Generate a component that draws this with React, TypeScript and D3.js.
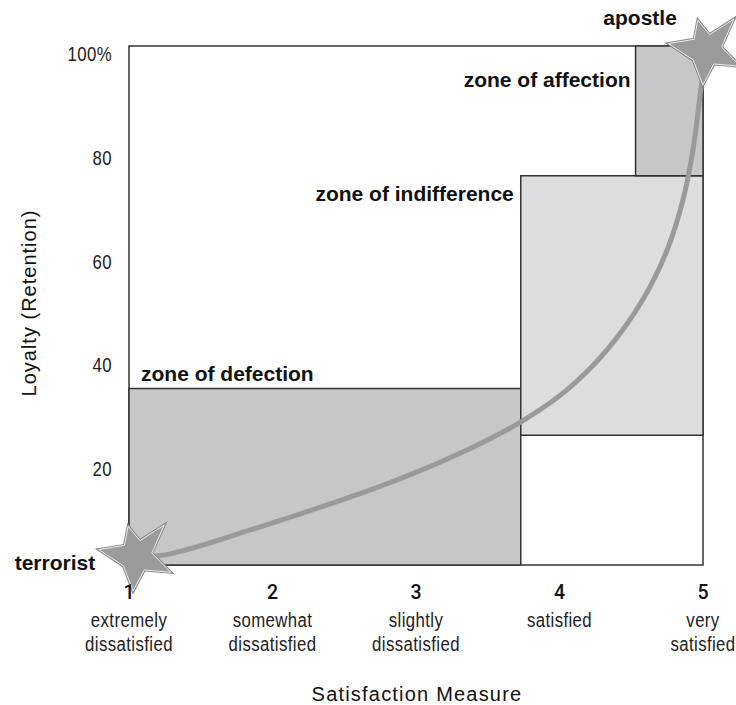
import React from "react";
import * as d3 from "d3";

// ---- data ----
const satisfactionLevels = [1, 2, 3, 4, 5];
const satisfactionLine1 = ["extremely", "somewhat", "slightly", "satisfied", "very"];
const satisfactionLine2 = ["dissatisfied", "dissatisfied", "dissatisfied", "", "satisfied"];
const loyaltyTicks = [20, 40, 60, 80, 100];
const loyaltyTickLabels = ["20", "40", "60", "80", "100%"];

const zoneNames = ["zone of defection", "zone of indifference", "zone of affection"];
const zoneSatFrom = [1, 3.73, 4.53];
const zoneSatTo = [3.73, 5, 5];
const zoneLoyaltyFrom = [0, 25, 75];
const zoneLoyaltyTo = [34, 75, 100];

const curveSat = [1.05, 1.24, 1.84, 2.87, 3.36, 3.72, 4.05, 4.33, 4.58, 4.75, 4.86, 4.93, 4.98, 5.02];
const curveLoyalty = [1.7, 1.9, 6.7, 16.4, 22.2, 27.4, 33.7, 41.4, 51.1, 60.7, 70.3, 80.0, 90.6, 99.2];

const endpointNames = ["terrorist", "apostle"];
const endpointSat = [1.05, 5.02];
const endpointLoyalty = [1.7, 99.2];

// ---- layout ----
const W = 736;
const H = 705;
const x = d3.scaleLinear().domain([1, 5]).range([129, 703]);
const y = d3.scaleLinear().domain([0, 100]).range([565, 46]);

const SANS = "'Liberation Sans', Arial, Helvetica, sans-serif";
const NARROW_SCALE = 0.8;
const zoneFills = ["#c6c7c9", "#dcdddf", "#c6c7c9"];

// star marker shape (tip angles in degrees clockwise from north)
const starTipAngles = [42, 115, 185, 280, 345];
const starTipRadii = [42, 38, 35, 38, 31];
const starInnerRadius = 16;

function starPath() {
  const pts: [number, number][] = [];
  starTipAngles.forEach((a, i) => {
    const next = starTipAngles[(i + 1) % starTipAngles.length] + (i === starTipAngles.length - 1 ? 360 : 0);
    pts.push([(a * Math.PI) / 180, starTipRadii[i]]);
    pts.push([(((a + next) / 2) * Math.PI) / 180, starInnerRadius]);
  });
  return d3.lineRadial().curve(d3.curveLinearClosed)(pts) as string;
}

function Narrow(props: { x: number; y: number; anchor: string; children: React.ReactNode }) {
  return (
    <g transform={`translate(${props.x},${props.y}) scale(${NARROW_SCALE},1)`}>
      <text
        textAnchor={props.anchor}
        fontFamily={SANS}
        fontSize={21}
        fill="#222"
        letterSpacing={0.5}
      >
        {props.children}
      </text>
    </g>
  );
}

export default function App() {
  const line = d3
    .line<number>()
    .x((_, i) => x(curveSat[i]))
    .y((_, i) => y(curveLoyalty[i]))
    .curve(d3.curveCatmullRom.alpha(0.5));
  const curveD = line(curveSat) as string;
  const star = starPath();

  return (
    <svg
      width={W}
      height={H}
      style={{ position: "absolute", left: 0, top: 0, background: "#fff" }}
    >
      {/* frame */}
      <rect
        x={x(1)}
        y={y(100)}
        width={x(5) - x(1)}
        height={y(0) - y(100)}
        fill="#fff"
        stroke="#333"
        strokeWidth={1.5}
      />
      {/* zones */}
      {zoneNames.map((n, i) => (
        <rect
          key={n}
          x={x(zoneSatFrom[i])}
          y={y(zoneLoyaltyTo[i])}
          width={x(zoneSatTo[i]) - x(zoneSatFrom[i])}
          height={y(zoneLoyaltyFrom[i]) - y(zoneLoyaltyTo[i])}
          fill={zoneFills[i]}
          stroke="#333"
          strokeWidth={1.5}
        />
      ))}
      {/* zone labels */}
      <g fontFamily={SANS} fontWeight="bold" fontSize={21} fill="#111">
        <text x={x(zoneSatFrom[0]) + 12} y={y(zoneLoyaltyTo[0]) - 8}>
          {zoneNames[0]}
        </text>
        <text x={x(zoneSatFrom[1]) - 7} y={y(zoneLoyaltyTo[1]) + 25} textAnchor="end">
          {zoneNames[1]}
        </text>
        <text x={x(zoneSatFrom[2]) - 5} y={y(zoneLoyaltyTo[2]) + 41} textAnchor="end">
          {zoneNames[2]}
        </text>
      </g>
      {/* curve */}
      <path d={curveD} fill="none" stroke="#9a9a9a" strokeWidth={5} />
      {/* endpoint stars */}
      {endpointNames.map((n, i) => (
        <g key={n} transform={`translate(${x(endpointSat[i])},${y(endpointLoyalty[i])})`}>
          <path d={star} fill="none" stroke="#8a8a8a" strokeWidth={3} strokeLinejoin="miter" />
          <path d={star} fill="#9b9b9b" stroke="#eeeeee" strokeWidth={1} />
        </g>
      ))}
      <g fontFamily={SANS} fontWeight="bold" fontSize={21} fill="#111">
        <text x={x(endpointSat[0]) - 41} y={y(endpointLoyalty[0]) + 14} textAnchor="end">
          {endpointNames[0]}
        </text>
        <text x={x(endpointSat[1]) - 29} y={y(endpointLoyalty[1]) - 25} textAnchor="end">
          {endpointNames[1]}
        </text>
      </g>
      {/* y axis tick labels */}
      {loyaltyTicks.map((t, i) => (
        <Narrow key={t} x={x(1) - 17} y={y(t) + 15} anchor="end">
          {loyaltyTickLabels[i]}
        </Narrow>
      ))}
      {/* x axis tick labels */}
      {satisfactionLevels.map((s, i) => (
        <g key={s}>
          <text
            x={x(s)}
            y={599}
            textAnchor="middle"
            fontFamily="Roboto, sans-serif"
            fontWeight={500}
            fontSize={19.5}
            fill="#111"
          >
            {s}
          </text>
          <Narrow x={x(s)} y={627} anchor="middle">
            {satisfactionLine1[i]}
          </Narrow>
          <Narrow x={x(s)} y={651} anchor="middle">
            {satisfactionLine2[i]}
          </Narrow>
        </g>
      ))}
      {/* axis titles */}
      <text
        x={417}
        y={701}
        textAnchor="middle"
        fontFamily={SANS}
        fontSize={20}
        letterSpacing={1.2}
        fill="#111"
      >
        Satisfaction Measure
      </text>
      <text
        transform="translate(36,303) rotate(-90)"
        textAnchor="middle"
        fontFamily={SANS}
        fontSize={20}
        letterSpacing={1}
        fill="#111"
      >
        Loyalty (Retention)
      </text>
    </svg>
  );
}
